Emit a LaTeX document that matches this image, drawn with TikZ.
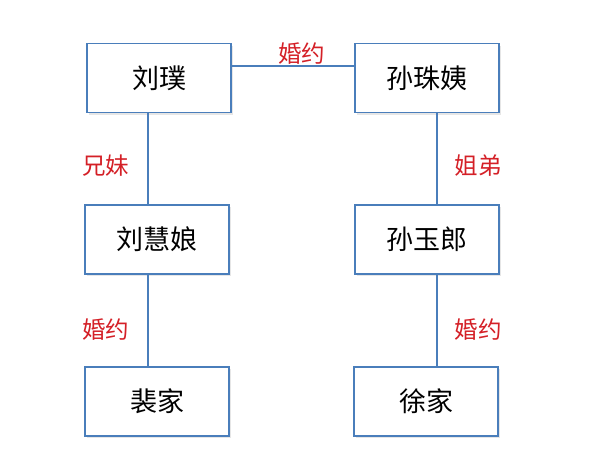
\documentclass[tikz,border=0pt]{standalone}
\usepackage{fontspec}
\setmainfont{Noto Sans CJK SC}
\usetikzlibrary{shadows}
\definecolor{boxblue}{HTML}{4A7EBB}
\definecolor{relred}{HTML}{D42027}

\begin{document}
\begin{tikzpicture}[x=1pt,y=-1pt,
  person/.style={draw=boxblue,line width=1.3pt,fill=white,minimum width=144pt,minimum height=69pt,
    font=\fontsize{27}{31}\selectfont,drop shadow={shadow xshift=1.5pt,shadow yshift=-2pt,opacity=.2}},
  rel/.style={text=relred,font=\fontsize{23.5}{27}\selectfont,inner sep=1pt},
  link/.style={draw=boxblue,line width=1.3pt}]
\useasboundingbox (0,0) rectangle (593,475);

\node[person] (LP) at (159,78) {刘璞};
\node[person] (SZ) at (427,78) {孙珠姨};
\node[person] (LH) at (157,239.5) {刘慧娘};
\node[person] (SY) at (427,239.5) {孙玉郎};
\node[person] (PJ) at (157,401.5) {裴家};
\node[person] (XJ) at (426,401.5) {徐家};

\draw[link] ([yshift=12pt]LP.east) -- node[rel,above=0pt,pos=.57]{婚约} ([yshift=12pt]SZ.west);

\draw[link] ([xshift=-11pt]LP.south) -- node[rel,left=17pt,pos=.58]{兄妹} ([xshift=-9pt]LH.north);
\draw[link] ([xshift=10pt]SZ.south) -- node[rel,right=16pt,pos=.58]{姐弟} ([xshift=10pt]SY.north);

\draw[link] ([xshift=-9pt]LH.south) -- node[rel,left=17pt,pos=.6]{婚约} ([xshift=-9pt]PJ.north);
\draw[link] ([xshift=10pt]SY.south) -- node[rel,right=16pt,pos=.6]{婚约} ([xshift=11pt]XJ.north);
\end{tikzpicture}
\end{document}
